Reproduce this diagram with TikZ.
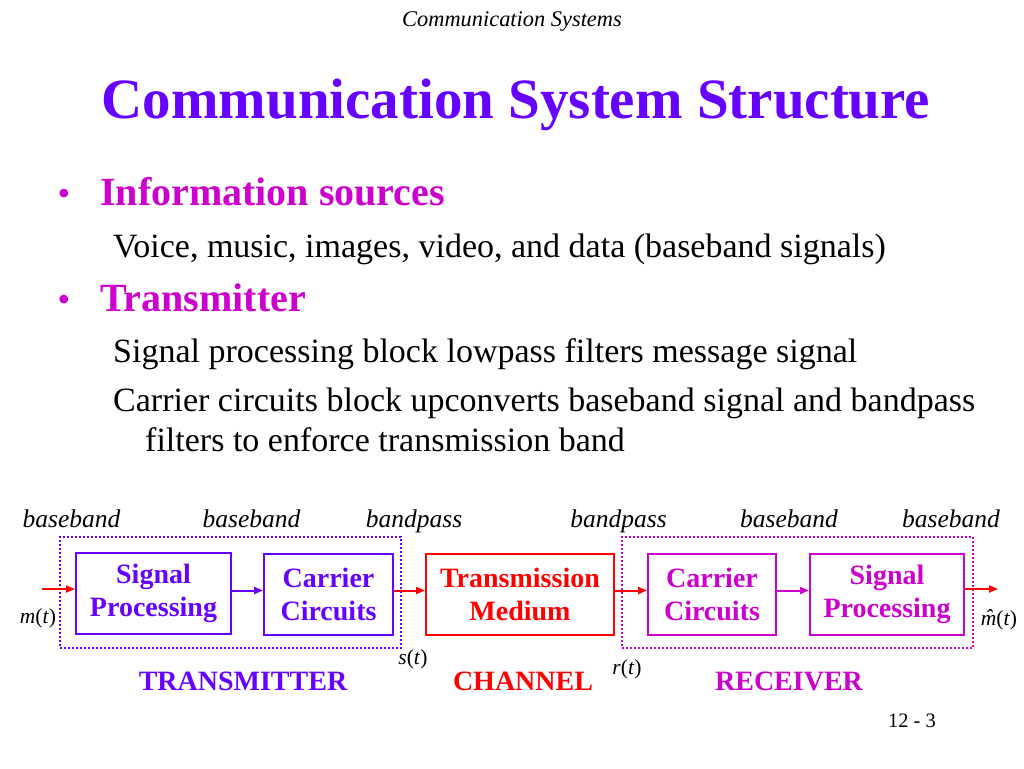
\documentclass[tikz,border=0pt]{standalone}
\usepackage{fontspec}
\setmainfont{Liberation Serif}
\usetikzlibrary{arrows.meta}
\definecolor{tpurple}{RGB}{102,0,255}
\definecolor{tmag}{RGB}{204,0,204}
\definecolor{tred}{RGB}{255,0,0}
\tikzset{
  blk/.style={draw=#1, text=#1, line width=2pt, align=center, inner sep=0pt,
    minimum height=81pt, font=\fontsize{28}{33}\selectfont\bfseries},
  grp/.style={draw=#1, line width=2pt, dash pattern=on 2pt off 2pt, inner sep=0pt},
  sig/.style={draw=#1, line width=2pt, -{Triangle[length=9pt,width=7pt]}},
  lab/.style={anchor=base, font=\fontsize{25.5}{25.5}\selectfont\itshape},
  var/.style={anchor=base, font=\fontsize{21.5}{21.5}\selectfont},
  grpname/.style={anchor=base, text=#1, font=\fontsize{28}{28}\selectfont\bfseries},
  bul/.style={anchor=base west, text=tmag, font=\fontsize{36}{36}\selectfont},
  head/.style={anchor=base west, text=tmag, inner sep=0pt, font=\fontsize{40}{40}\selectfont\bfseries},
  body/.style={anchor=base west, inner sep=0pt, font=\fontsize{34}{34}\selectfont},
}
\begin{document}
\begin{tikzpicture}[x=1pt,y=-1pt]
\useasboundingbox[fill=white] (0,0) rectangle (1024,768);
% header and title
\node[anchor=base, font=\fontsize{22.4}{22.4}\selectfont\itshape] (hdr) at (512,27) {Communication Systems};
\node[anchor=base, text=tpurple, font=\fontsize{57}{57}\selectfont\bfseries] (title) at (516,118) {Communication System Structure};
% bullets
\node[bul] (b1) at (54,205) {\textbullet};
\node[head] (h1) at (100,205) {Information sources};
\node[body] (t1) at (113,257) {Voice, music, images, video, and data (baseband signals)};
\node[bul] (b2) at (54,311) {\textbullet};
\node[head] (h2) at (100,311) {Transmitter};
\node[body] (t2) at (113,362) {Signal processing block lowpass filters message signal};
\node[body] (t3) at (113,411) {Carrier circuits block upconverts baseband signal and bandpass};
\node[body] (t4) at (145,451) {filters to enforce transmission band};
% signal type labels
\node[lab] (l1) at (71.5,527) {baseband};
\node[lab] (l2) at (251.5,527) {baseband};
\node[lab] (l3) at (414,527) {bandpass};
\node[lab] (l4) at (618.5,527) {bandpass};
\node[lab] (l5) at (789,527) {baseband};
\node[lab] (l6) at (951,527) {baseband};
% group boxes
\node[grp=tpurple, minimum width=341pt, minimum height=111pt] (txg) at (230.5,592.5) {};
\node[grp=tmag, minimum width=351pt, minimum height=111pt] (rxg) at (797.5,592.5) {};
% blocks
\node[blk=tpurple, minimum width=155pt, minimum height=81pt] (sp1) at (153.5,593.5) {Signal\\Processing};
\node[blk=tpurple, minimum width=129pt] (cc1) at (328.5,594.5) {Carrier\\Circuits};
\node[blk=tred, minimum width=188pt] (tm) at (520,594.5) {Transmission\\Medium};
\node[blk=tmag, minimum width=128pt] (cc2) at (712,594.5) {Carrier\\Circuits};
\node[blk=tmag, minimum width=154pt] (sp2) at (887,594.5) {Signal\\Processing};
% signals
\coordinate (in) at (42,589);
\coordinate (out) at (998,589);
\draw[sig=tred] (in) -- (sp1.west |- in);
\draw[sig=tpurple] ([yshift=4pt]sp1.east |- cc1.west) -- ([yshift=4pt]cc1.west);
\draw[sig=tred] ([yshift=4pt]cc1.east) -- ([yshift=4pt]tm.west);
\draw[sig=tred] ([yshift=4pt]tm.east) -- ([yshift=4pt]cc2.west);
\draw[sig=tmag] ([yshift=4pt]cc2.east) -- ([yshift=4pt]sp2.west);
\draw[sig=tred] (sp2.east |- out) -- (out);
% signal names
\node[var] (mt) at (38,623) {\textit{m}(\textit{t})};
\node[var] (mht) at (999,625) {\textit{\rlap{\hspace{0.2em}\raisebox{0.05ex}{\char"02C6}}m}(\textit{t})};
\node[var] (st) at (413,664) {\textit{s}(\textit{t})};
\node[var] (rt) at (627,674) {\textit{r}(\textit{t})};
% group names
\node[grpname=tpurple] (txn) at (243,690) {TRANSMITTER};
\node[grpname=tred] (chn) at (523,690) {CHANNEL};
\node[grpname=tmag] (rxn) at (789,690) {RECEIVER};
\node[anchor=base, font=\fontsize{20.5}{20.5}\selectfont] (pg) at (912,727) {12 - 3};
\end{tikzpicture}
\end{document}
